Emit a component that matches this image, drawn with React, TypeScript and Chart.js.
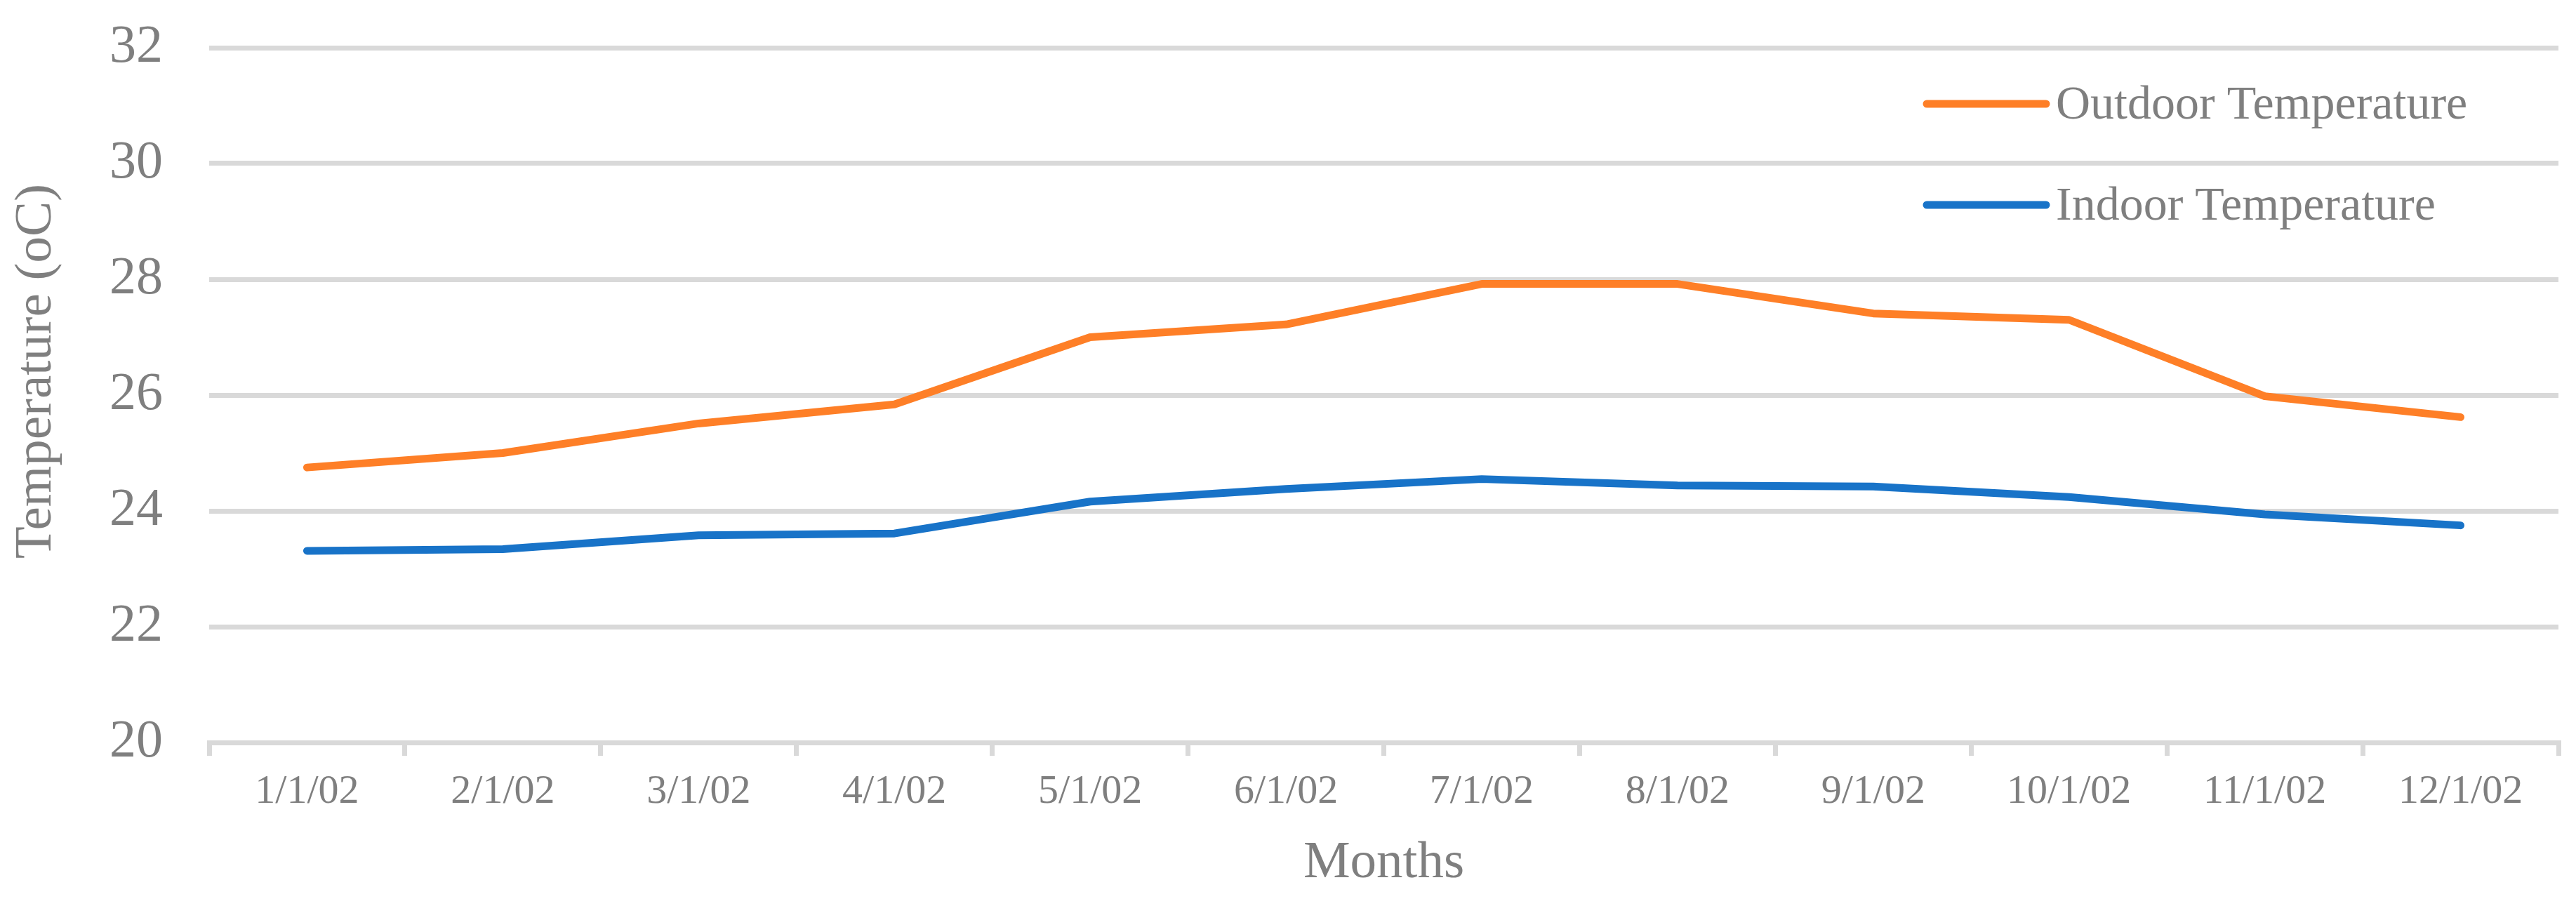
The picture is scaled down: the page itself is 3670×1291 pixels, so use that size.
import React, { useEffect, useRef } from 'react';
import { Chart, registerables } from 'chart.js';

Chart.register(...registerables);

const months = ['1/1/02', '2/1/02', '3/1/02', '4/1/02', '5/1/02', '6/1/02', '7/1/02', '8/1/02', '9/1/02', '10/1/02', '11/1/02', '12/1/02'];
const outdoorTemp = [24.75, 25.0, 25.51, 25.84, 27.0, 27.22, 27.92, 27.92, 27.41, 27.3, 25.98, 25.62];
const indoorTemp = [23.31, 23.34, 23.58, 23.61, 24.16, 24.38, 24.55, 24.44, 24.42, 24.24, 23.94, 23.75];
const seriesNames = ['Outdoor Temperature', 'Indoor Temperature'];
const seriesColors = ['#fe7f27', '#1873c8'];
const yMin = 20;
const yMax = 32;
const yStep = 2;
const xTitle = 'Months';
const yTitle = 'Temperature (oC)';

const FONT = '"Liberation Serif", "Times New Roman", serif';
const TEXT = '#7f7f7f';
const GRID = '#d9d9d9';

const yTitlePlugin = {
  id: 'yTitlePlugin',
  afterDraw(chart: any) {
    const { ctx, chartArea } = chart;
    ctx.save();
    ctx.font = `75px ${FONT}`;
    ctx.fillStyle = TEXT;
    ctx.translate(chartArea.left - 226, (chartArea.top + chartArea.bottom) / 2 - 34);
    ctx.rotate(-Math.PI / 2);
    ctx.textAlign = 'center';
    ctx.textBaseline = 'alphabetic';
    ctx.fillText(yTitle, 0, 0);
    ctx.restore();
  },
};

const legendPlugin = {
  id: 'insideLegend',
  afterDraw(chart: any) {
    const { ctx, chartArea } = chart;
    ctx.save();
    chart.data.datasets.forEach((ds: any, i: number) => {
      const y = chartArea.top + 80 + i * 144;
      const x0 = chartArea.right - 900;
      const x1 = chartArea.right - 730;
      ctx.strokeStyle = ds.borderColor;
      ctx.lineWidth = 11;
      ctx.lineCap = 'round';
      ctx.beginPath();
      ctx.moveTo(x0, y);
      ctx.lineTo(x1, y);
      ctx.stroke();
      ctx.font = `68px ${FONT}`;
      ctx.fillStyle = TEXT;
      ctx.textAlign = 'left';
      ctx.textBaseline = 'alphabetic';
      ctx.fillText(ds.label, chartArea.right - 716, y + 21);
    });
    ctx.restore();
  },
};

export default function App() {
  const canvasRef = useRef<HTMLCanvasElement | null>(null);

  useEffect(() => {
    document.body.style.margin = '0';
    const canvas = canvasRef.current;
    if (!canvas) return;
    const chart = new Chart(canvas, {
      type: 'line',
      data: {
        labels: months,
        datasets: [
          {
            label: seriesNames[0],
            data: outdoorTemp,
            borderColor: seriesColors[0],
            backgroundColor: seriesColors[0],
            borderWidth: 11,
            borderCapStyle: 'round',
            borderJoinStyle: 'round',
            pointRadius: 0,
            tension: 0,
          },
          {
            label: seriesNames[1],
            data: indoorTemp,
            borderColor: seriesColors[1],
            backgroundColor: seriesColors[1],
            borderWidth: 11,
            borderCapStyle: 'round',
            borderJoinStyle: 'round',
            pointRadius: 0,
            tension: 0,
          },
        ],
      },
      options: {
        responsive: false,
        animation: false,
        devicePixelRatio: 1,
        layout: { padding: { top: 68, right: 25, left: 0, bottom: 0 } },
        plugins: {
          legend: { display: false },
          tooltip: { enabled: false },
        },
        scales: {
          x: {
            type: 'category',
            offset: true,
            grid: {
              offset: true,
              drawOnChartArea: false,
              drawTicks: true,
              tickLength: 19,
              color: GRID,
              lineWidth: 7,
            },
            border: { display: true, color: GRID, width: 7 },
            ticks: {
              padding: 17,
              maxRotation: 0,
              autoSkip: false,
              color: TEXT,
              font: { family: FONT, size: 58 },
            },
            title: {
              display: true,
              text: xTitle,
              color: TEXT,
              font: { family: FONT, size: 75 },
              padding: { top: 0, bottom: 16 },
            },
            afterFit: (scale: any) => {
              scale.height = 233;
              scale.paddingLeft = 0;
              scale.paddingRight = 0;
            },
          },
          y: {
            min: yMin,
            max: yMax,
            ticks: {
              stepSize: yStep,
              padding: 66,
              color: TEXT,
              font: { family: FONT, size: 76 },
            },
            grid: {
              color: GRID,
              lineWidth: 7,
              drawTicks: false,
            },
            border: { display: false },
            afterFit: (scale: any) => {
              scale.width = 298;
              scale.paddingTop = 0;
              scale.paddingBottom = 0;
            },
          },
        },
      },
      plugins: [yTitlePlugin, legendPlugin],
    });
    return () => chart.destroy();
  }, []);

  return (
    <div style={{ position: 'absolute', left: 0, top: 0, width: 3670, height: 1291, background: '#fff' }}>
      <canvas ref={canvasRef} width={3670} height={1291} style={{ width: 3670, height: 1291, display: 'block' }} />
    </div>
  );
}
